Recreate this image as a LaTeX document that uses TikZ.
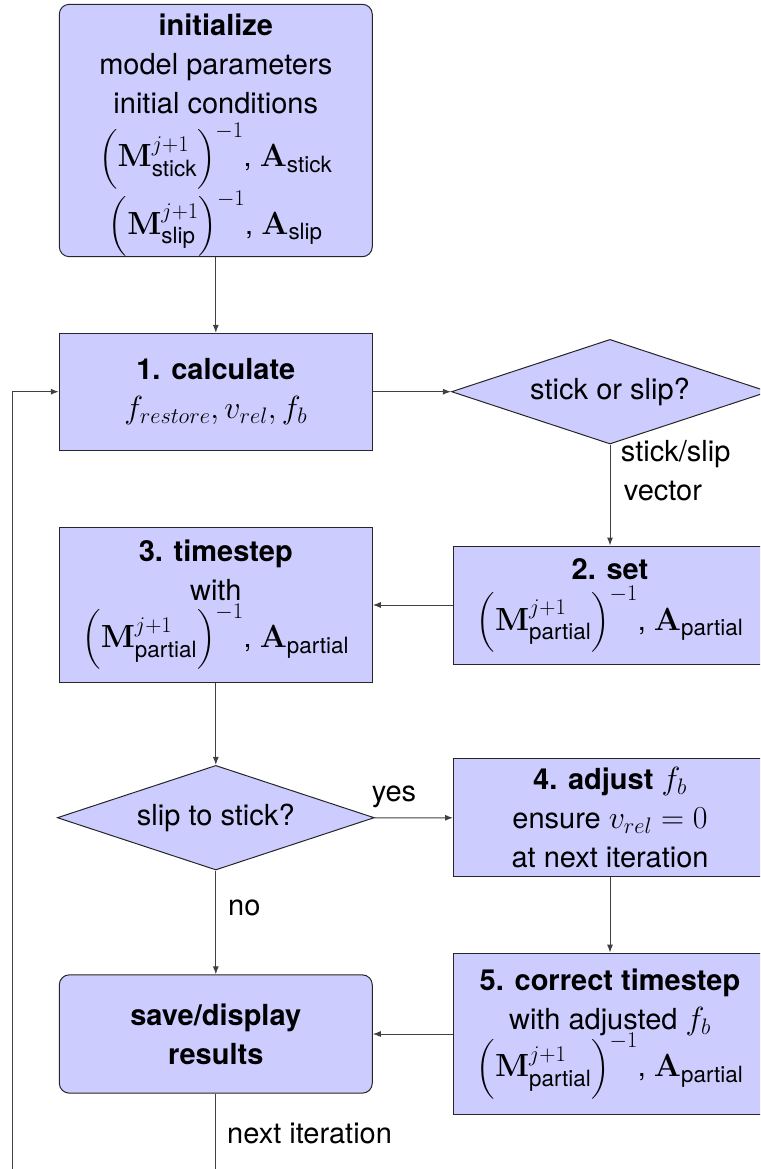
\RequirePackage{fix-cm}
\documentclass[tikz,border=0pt]{standalone}
\usepackage{amsmath}
\usepackage[no-math]{fontspec}
\setmainfont{TeX Gyre Heros}
\DeclareMathSizes{29}{32}{22.4}{16}
\usetikzlibrary{shapes.geometric,arrows.meta}
\begin{document}
\begin{tikzpicture}[x=1pt,y=-1pt,
  font=\fontsize{29}{39}\selectfont,
  box/.style={draw=black!85, fill=blue!20, line width=1pt, minimum width=313pt, align=center, inner sep=0pt},
  rbox/.style={box, rounded corners=10pt},
  dec/.style={diamond, draw=black!85, fill=blue!20, line width=1pt, minimum width=317pt, minimum height=104.6pt, aspect=3, inner sep=0pt},
  conn/.style={draw=black!75, line width=1pt, -{Latex[length=8pt,width=6pt]}},
  lbl/.style={inner sep=0pt}]
\useasboundingbox (0,0) rectangle (760,1169);
\clip (0,0) rectangle (760,1169);

\node[rbox, minimum height=252.4pt] (init) at (215.8,130.5)
  {\rule{0pt}{31pt}\textbf{initialize}\\ model parameters\\ initial conditions\\[8pt]
   $\Bigl(\mathbf{M}^{j+1}_{\text{stick}}\Bigr)^{-1}$, $\mathbf{A}_{\text{stick}}$\\[1pt]
   $\Bigl(\mathbf{M}^{j+1}_{\text{slip}}\Bigr)^{-1}$, $\mathbf{A}_{\text{slip}}$};
\node[box, minimum height=116.7pt] (calc) at (215.8,391.7)
  {\textbf{1. calculate}\\ $f_{restore}, v_{rel}, f_b$};
\node[dec] (d1) at (610,391.7) {stick or slip?};
\node[box, minimum height=118pt] (set) at (610,605)
  {\textbf{2. set}\\[6pt] $\Bigl(\mathbf{M}^{j+1}_{\text{partial}}\Bigr)^{-1}$, $\mathbf{A}_{\text{partial}}$};
\node[box, minimum height=155.4pt] (ts) at (215.8,605)
  {\textbf{3. timestep}\\ with\\[2pt] $\Bigl(\mathbf{M}^{j+1}_{\text{partial}}\Bigr)^{-1}$, $\mathbf{A}_{\text{partial}}$};
\node[dec] (d2) at (215.8,817.7) {slip to stick?};
\node[box, minimum height=117.7pt] (adj) at (610,817.8)
  {\textbf{4. adjust} $f_b$\\ ensure $v_{rel}=0$\\ at next iteration};
\node[box, minimum height=161.7pt] (corr) at (610,1034)
  {\textbf{5. correct timestep}\\ with adjusted $f_b$\\[-4pt] $\Bigl(\mathbf{M}^{j+1}_{\text{partial}}\Bigr)^{-1}$, $\mathbf{A}_{\text{partial}}$};
\node[rbox, minimum height=118.3pt] (save) at (215.8,1034)
  {\textbf{save/display}\\ \textbf{results}};

\node[lbl, anchor=north west, align=left] (svlbl) at (620.7,440) {stick/slip\\ \hspace*{3pt}vector};
\node[lbl, anchor=base] (yes) at (394,801.7) {yes};
\node[lbl, anchor=base west] (no) at (228,915) {no};
\node[lbl, anchor=base west] (next) at (227,1143) {next iteration};

\coordinate (b1) at (215.8,1190);
\coordinate (b2) at (12.7,1190);

\draw[conn] (init) -- (calc);
\draw[conn] (calc) -- (d1);
\draw[conn] (d1) -- (set);
\draw[conn] (set) -- (ts);
\draw[conn] (ts) -- (d2);
\draw[conn] (d2) -- (adj);
\draw[conn] (adj) -- (corr);
\draw[conn] (d2) -- (save);
\draw[conn] (corr) -- (save);
\draw[conn] (save) -- (b1) -- (b2) |- (calc.west);
\end{tikzpicture}
\end{document}
